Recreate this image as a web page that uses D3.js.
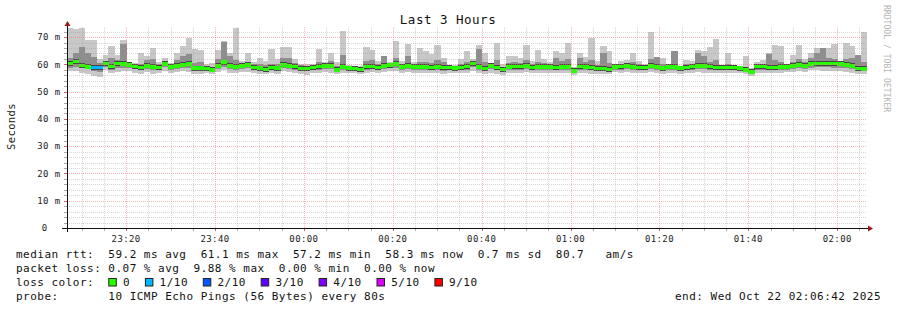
<!DOCTYPE html>
<html>
<head>
<meta charset="utf-8">
<script src="https://cdn.jsdelivr.net/npm/d3@7"></script>
<style>
  html, body { margin: 0; padding: 0; background: #fff; }
  svg text { font-family: "DejaVu Sans Mono", monospace; white-space: pre; }
</style>
</head>
<body>
<svg id="chart" width="897" height="310"></svg>
<script>
// smoke values per 80s step, in ms
const maxRtt = [
  73.2, 73.0, 73.3, 68.8, 68.8, 61.8, 63.3, 66.8, 63.4, 68.9,
  60.8, 60.5, 64.3, 62.9, 65.9, 61.0, 62.5, 60.4, 64.3, 66.8,
  69.6, 65.5, 65.4, 60.0, 60.4, 65.2, 68.4, 64.0, 73.2, 61.3,
  64.0, 60.7, 62.5, 61.3, 65.8, 61.9, 66.4, 66.4, 62.0, 60.3,
  60.0, 60.3, 65.7, 61.0, 64.0, 60.7, 72.3, 59.6, 59.5, 59.4,
  66.2, 65.2, 61.3, 63.1, 60.7, 68.4, 61.3, 67.4, 60.7, 65.9,
  65.0, 63.7, 67.0, 62.5, 59.8, 59.6, 62.1, 65.0, 61.9, 67.1,
  64.0, 60.0, 68.0, 60.0, 63.1, 63.1, 62.5, 67.1, 61.3, 65.2,
  61.9, 61.0, 65.0, 64.3, 68.0, 59.0, 64.3, 62.7, 69.6, 61.3,
  66.8, 65.0, 59.6, 61.3, 61.5, 64.3, 61.3, 60.3, 71.8, 62.7,
  62.2, 60.3, 65.0, 59.3, 61.6, 61.3, 65.2, 65.0, 66.4, 69.2,
  59.2, 64.0, 59.2, 59.2, 62.9, 58.8, 61.0, 61.5, 64.0, 67.1,
  66.6, 59.8, 63.5, 67.0, 61.9, 64.0, 66.1, 66.1, 66.1, 67.4,
  60.3, 67.7, 66.6, 63.5, 72.0
];
const upRtt = [
  62.5, 64.3, 66.4, 64.0, 62.6, 60.5, 61.0, 62.3, 61.5, 67.4,
  60.2, 60.0, 60.2, 61.5, 62.0, 60.0, 60.8, 59.9, 61.5, 63.1,
  63.8, 60.6, 61.0, 59.5, 59.2, 62.0, 68.3, 63.1, 61.7, 60.5,
  61.0, 60.0, 60.3, 59.8, 60.3, 60.2, 62.5, 62.5, 60.5, 59.6,
  59.4, 59.8, 60.8, 60.3, 61.4, 59.3, 63.4, 59.2, 59.1, 58.9,
  61.2, 61.5, 60.0, 63.0, 60.4, 62.5, 60.3, 63.1, 60.1, 60.8,
  61.0, 60.6, 61.5, 60.8, 59.4, 59.2, 60.3, 61.0, 61.0, 65.5,
  61.0, 59.8, 61.6, 59.0, 60.5, 61.0, 60.6, 61.5, 60.0, 60.9,
  60.5, 60.2, 62.5, 61.2, 62.0, 58.5, 62.5, 60.8, 61.5, 59.8,
  64.0, 60.6, 59.3, 60.3, 60.5, 60.8, 60.0, 59.8, 62.0, 62.6,
  60.0, 59.8, 64.8, 59.0, 60.0, 60.2, 64.3, 63.1, 61.0, 61.5,
  59.0, 60.2, 59.0, 58.9, 59.0, 58.2, 60.0, 60.3, 63.9, 61.5,
  61.0, 59.5, 61.0, 62.0, 61.0, 62.5, 64.3, 65.9, 62.3, 62.0,
  60.2, 62.0, 62.5, 63.4, 61.0
];
const medRtt = [
  60.3, 61.1, 59.5, 59.1, 58.8, 58.8, 60.3, 59.2, 60.3, 60.1,
  59.8, 59.2, 58.8, 59.4, 59.1, 58.8, 60.1, 59.1, 59.4, 59.8,
  60.1, 58.6, 58.6, 58.5, 58.0, 59.4, 60.8, 59.4, 59.1, 59.4,
  59.8, 58.8, 58.6, 58.1, 58.8, 58.6, 59.8, 59.4, 59.2, 58.5,
  58.5, 58.8, 59.2, 59.4, 59.4, 58.0, 59.1, 58.6, 58.5, 58.2,
  59.2, 59.2, 58.8, 59.4, 59.7, 60.1, 59.1, 59.4, 59.1, 59.1,
  59.1, 58.8, 59.1, 58.8, 58.8, 58.6, 58.8, 59.2, 60.3, 59.1,
  58.5, 59.4, 58.8, 58.2, 59.1, 59.2, 59.2, 59.4, 58.8, 59.1,
  59.1, 59.1, 58.8, 59.1, 59.1, 57.6, 59.2, 59.1, 58.8, 58.5,
  58.5, 58.2, 59.1, 59.2, 59.4, 59.1, 58.8, 58.8, 59.4, 59.1,
  58.6, 59.1, 59.1, 58.6, 58.8, 59.2, 59.4, 59.4, 59.2, 58.8,
  58.8, 58.8, 58.8, 58.6, 58.0, 57.2, 59.2, 59.2, 58.8, 58.8,
  59.1, 59.1, 59.4, 59.8, 59.4, 60.1, 60.3, 60.3, 60.3, 60.3,
  60.1, 59.8, 59.4, 58.5, 58.3
];
const lowRtt = [
  58.8, 58.9, 58.5, 58.2, 57.6, 57.2, 58.9, 58.1, 58.7, 58.6,
  58.7, 58.3, 57.9, 58.2, 57.9, 57.8, 58.9, 58.0, 58.3, 58.5,
  58.7, 57.6, 57.7, 57.6, 57.2, 58.2, 58.9, 58.3, 58.0, 58.2,
  58.5, 57.8, 57.8, 57.3, 57.8, 57.6, 58.6, 58.3, 58.1, 57.5,
  57.4, 57.8, 58.0, 58.3, 58.2, 57.2, 58.0, 57.8, 57.6, 57.4,
  58.1, 58.2, 57.8, 58.3, 58.5, 58.8, 58.0, 58.3, 58.1, 58.0,
  58.0, 57.8, 58.0, 57.6, 57.8, 57.6, 57.8, 58.1, 58.9, 58.0,
  57.6, 58.2, 57.8, 57.3, 58.0, 58.1, 58.1, 58.3, 57.8, 58.0,
  58.0, 58.0, 57.8, 58.0, 58.0, 56.9, 58.1, 58.0, 57.8, 57.6,
  57.6, 57.3, 58.1, 58.1, 58.3, 58.0, 57.8, 57.8, 58.3, 58.0,
  57.6, 58.0, 58.0, 57.6, 57.8, 58.1, 58.3, 58.2, 58.1, 57.8,
  57.8, 57.8, 57.9, 57.7, 57.2, 56.6, 58.1, 58.1, 57.8, 57.8,
  58.0, 58.1, 58.3, 58.6, 58.4, 58.8, 59.0, 58.9, 58.9, 58.8,
  58.6, 58.5, 58.3, 57.6, 57.4
];
const minRtt = [
  57.4, 57.6, 57.0, 56.6, 55.6, 55.2, 57.8, 56.8, 57.2, 57.4,
  57.6, 57.0, 56.5, 57.1, 56.6, 56.8, 57.5, 56.9, 57.2, 57.4,
  57.3, 56.6, 56.3, 56.9, 56.4, 57.1, 57.9, 57.0, 56.8, 57.2,
  57.3, 56.8, 56.5, 56.4, 56.7, 56.5, 57.5, 57.2, 57.0, 56.6,
  56.2, 56.9, 56.9, 57.2, 57.0, 56.3, 56.9, 57.0, 56.8, 56.5,
  57.0, 57.2, 56.8, 57.3, 57.5, 57.7, 56.9, 57.1, 57.0, 57.0,
  56.9, 56.8, 57.0, 56.6, 57.0, 56.8, 57.0, 57.0, 57.6, 56.8,
  56.5, 57.0, 56.6, 56.2, 56.9, 57.0, 57.0, 57.2, 56.8, 57.0,
  57.0, 56.9, 56.8, 57.0, 56.9, 56.2, 57.0, 57.0, 56.6, 56.6,
  56.5, 56.3, 57.1, 57.0, 57.2, 57.0, 56.9, 56.8, 57.2, 56.8,
  56.5, 57.0, 56.8, 56.6, 56.8, 57.0, 57.1, 57.0, 56.9, 56.7,
  56.8, 56.9, 57.0, 56.9, 56.4, 55.9, 57.0, 57.0, 56.8, 56.8,
  56.9, 57.1, 57.2, 57.4, 57.3, 57.8, 57.8, 57.7, 57.6, 57.5,
  57.4, 57.2, 57.0, 56.5, 56.4
];
// columns with lost pings (out of 10)
const lossCols = [4, 5];
const lossPings = [1, 1];

const lossLabels = ["0", "1/10", "2/10", "3/10", "4/10", "5/10", "9/10"];
const lossColors = ["#26ff00", "#00b8ff", "#0059ff", "#5e00ff", "#7e00ff", "#dd00ff", "#ff0000"];
const lossLevels = [0, 1, 2, 3, 4, 5, 9];

const legendLines = [
  "median rtt:  59.2 ms avg  61.1 ms max  57.2 ms min  58.3 ms now  0.7 ms sd  80.7   am/s",
  "packet loss: 0.07 % avg  9.88 % max  0.00 % min  0.00 % now",
  "loss color:",
  "probe:       10 ICMP Echo Pings (56 Bytes) every 80s"
];

const endTime = new Date(2025, 9, 22, 2, 6, 42);
const stepMs = 80 * 1000;
const startTime = new Date(endTime.getTime() - medRtt.length * stepMs);

const svg = d3.select("#chart");

const plot = { left: 67, right: 867, top: 27, bottom: 228 };

const x = d3.scaleTime().domain([startTime, endTime]).range([plot.left, plot.right]);
const y = d3.scaleLinear().domain([0, 73.7]).range([plot.bottom, plot.top]);

const cols = medRtt.map((m, i) => {
  const t0 = new Date(startTime.getTime() + i * stepMs);
  const t1 = new Date(t0.getTime() + stepMs);
  const li = lossCols.indexOf(i);
  return {
    x0: x(t0), x1: x(t1),
    max: maxRtt[i], up: upRtt[i], med: m, low: lowRtt[i], min: minRtt[i],
    loss: li >= 0 ? lossPings[li] : 0
  };
});

function lossColor(n) {
  // pick the highest legend level not above n
  let c = lossColors[0];
  lossLevels.forEach((lv, k) => { if (n >= lv) c = lossColors[k]; });
  return c;
}

const gData = svg.append("g").attr("shape-rendering", "crispEdges");

// outer smoke
gData.selectAll("rect.smoke1").data(cols).join("rect")
  .attr("class", "smoke1")
  .attr("x", d => d.x0).attr("width", d => d.x1 - d.x0 + 0.3)
  .attr("y", d => y(d.max)).attr("height", d => y(d.min) - y(d.max))
  .attr("fill", "#c8c8c8");

// inner smoke
gData.selectAll("rect.smoke2").data(cols).join("rect")
  .attr("class", "smoke2")
  .attr("x", d => d.x0).attr("width", d => d.x1 - d.x0 + 0.3)
  .attr("y", d => y(d.up)).attr("height", d => y(d.low) - y(d.up))
  .attr("fill", "#8e8e8e");

// dark core around median
gData.selectAll("rect.core").data(cols).join("rect")
  .attr("class", "core")
  .attr("x", d => d.x0).attr("width", d => d.x1 - d.x0 + 0.3)
  .attr("y", d => y(d.med) - 2.6).attr("height", 5)
  .attr("fill", "#444");

// median, coloured by loss
gData.selectAll("rect.med").data(cols).join("rect")
  .attr("class", "med")
  .attr("x", d => d.x0).attr("width", d => d.x1 - d.x0 + 0.3)
  .attr("y", d => y(d.med) - 1.7).attr("height", 3.4)
  .attr("fill", d => lossColor(d.loss));

// grid (drawn over the smoke, like rrdtool)
const gGrid = svg.append("g");
const yMajor = y.ticks(8);
const yMinor = d3.range(2, 73, 2).filter(v => v % 10 !== 0);
const xMajor = x.ticks(d3.timeMinute.every(20));
const xMinor = x.ticks(d3.timeMinute.every(5)).filter(t => t.getMinutes() % 20 !== 0);
const minorCol = "rgba(150,150,150,0.38)";
const majorCol = "rgba(245,110,110,0.5)";

gGrid.selectAll("line.hmin").data(yMinor).join("line")
  .attr("x1", plot.left).attr("x2", plot.right)
  .attr("y1", d => Math.round(y(d)) + 0.5).attr("y2", d => Math.round(y(d)) + 0.5)
  .attr("stroke", minorCol).attr("stroke-dasharray", "1,1");
gGrid.selectAll("line.vmin").data(xMinor).join("line")
  .attr("x1", d => Math.round(x(d)) + 0.5).attr("x2", d => Math.round(x(d)) + 0.5)
  .attr("y1", plot.top).attr("y2", plot.bottom)
  .attr("stroke", minorCol).attr("stroke-dasharray", "1,1");
gGrid.selectAll("line.hmaj").data(yMajor.filter(v => v > 0)).join("line")
  .attr("x1", plot.left).attr("x2", plot.right)
  .attr("y1", d => Math.round(y(d)) + 0.5).attr("y2", d => Math.round(y(d)) + 0.5)
  .attr("stroke", majorCol).attr("stroke-dasharray", "1,1");
gGrid.selectAll("line.vmaj").data(xMajor).join("line")
  .attr("x1", d => Math.round(x(d)) + 0.5).attr("x2", d => Math.round(x(d)) + 0.5)
  .attr("y1", plot.top).attr("y2", plot.bottom)
  .attr("stroke", majorCol).attr("stroke-dasharray", "1,1");

// axes
const gAxis = svg.append("g");
// small ticks on the y axis
gAxis.selectAll("line.ytick").data(yMinor.concat(yMajor)).join("line")
  .attr("x1", plot.left - 3).attr("x2", plot.left)
  .attr("y1", d => Math.round(y(d)) + 0.5).attr("y2", d => Math.round(y(d)) + 0.5)
  .attr("stroke", d => d % 10 === 0 ? "#d06060" : "#aaa");
// small ticks under the x axis
gAxis.selectAll("line.xtick").data(xMinor.concat(xMajor)).join("line")
  .attr("x1", d => Math.round(x(d)) + 0.5).attr("x2", d => Math.round(x(d)) + 0.5)
  .attr("y1", plot.bottom).attr("y2", plot.bottom + 3)
  .attr("stroke", d => d.getMinutes() % 20 === 0 ? "#d06060" : "#aaa");

gAxis.append("line")
  .attr("x1", plot.left - 5).attr("x2", plot.right + 1)
  .attr("y1", plot.bottom + 0.5).attr("y2", plot.bottom + 0.5)
  .attr("stroke", "#111");
gAxis.append("line")
  .attr("x1", plot.left + 0.5).attr("x2", plot.left + 0.5)
  .attr("y1", plot.bottom + 4).attr("y2", plot.top - 2)
  .attr("stroke", "#111");
// arrows
gAxis.append("path")
  .attr("d", `M${plot.right + 1},${plot.bottom - 2.5} L${plot.right + 6},${plot.bottom + 0.5} L${plot.right + 1},${plot.bottom + 3.5} Z`)
  .attr("fill", "#9a1a1a");
gAxis.append("path")
  .attr("d", `M${plot.left - 2.5},${plot.top - 1} L${plot.left + 0.5},${plot.top - 6} L${plot.left + 3.5},${plot.top - 1} Z`)
  .attr("fill", "#9a1a1a");

// tick labels
const fmtTime = d3.timeFormat("%H:%M");
svg.append("g").selectAll("text").data(xMajor).join("text")
  .attr("x", d => x(d)).attr("y", 241.5)
  .attr("text-anchor", "middle")
  .attr("font-size", "9px").attr("letter-spacing", "0.4px")
  .attr("fill", "#222")
  .text(d => fmtTime(d));

svg.append("g").selectAll("text").data(yMajor).join("text")
  .attr("x", d => d === 0 ? 47.5 : 60.5).attr("y", d => y(d) + 3.2)
  .attr("text-anchor", "end")
  .attr("font-size", "9px").attr("letter-spacing", "0.4px")
  .attr("fill", "#222")
  .text(d => d === 0 ? "0" : d + " m");

// title, axis label, watermark
svg.append("text")
  .attr("x", 448).attr("y", 24)
  .attr("text-anchor", "middle")
  .attr("font-size", "12.5px").attr("letter-spacing", "0.5px")
  .attr("fill", "#111")
  .text("Last 3 Hours");

svg.append("text")
  .attr("transform", "translate(15,126.5) rotate(-90)")
  .attr("text-anchor", "middle")
  .attr("font-size", "10.5px").attr("letter-spacing", "0.4px")
  .attr("fill", "#222")
  .text("Seconds");

svg.append("text")
  .attr("transform", "translate(884,5) rotate(90)")
  .attr("font-size", "8.1px")
  .attr("fill", "#b4b4b4")
  .text("RRDTOOL / TOBI OETIKER");

// legend
const legendY = [258.3, 272.2, 286.1, 300];
svg.append("g").selectAll("text").data(legendLines).join("text")
  .attr("x", 16).attr("y", (d, i) => legendY[i])
  .attr("font-size", "11px").attr("letter-spacing", "0.48px")
  .attr("fill", "#111")
  .text(d => d);

let lx = 108.3;
lossLabels.forEach((lab, k) => {
  svg.append("rect")
    .attr("x", lx + 0.5).attr("y", 278.5)
    .attr("width", 7.5).attr("height", 7.5)
    .attr("fill", lossColors[k]).attr("stroke", "#222").attr("stroke-width", 1);
  svg.append("text")
    .attr("x", lx + 14.7).attr("y", legendY[2])
    .attr("font-size", "11px").attr("letter-spacing", "0.48px")
    .attr("fill", "#111")
    .text(lab);
  lx += 7.1 * lab.length + 29.5;
});

svg.append("text")
  .attr("x", 881).attr("y", legendY[3])
  .attr("text-anchor", "end")
  .attr("font-size", "11px").attr("letter-spacing", "0.48px")
  .attr("fill", "#111")
  .text("end: Wed Oct 22 02:06:42 2025");
</script>
</body>
</html>
